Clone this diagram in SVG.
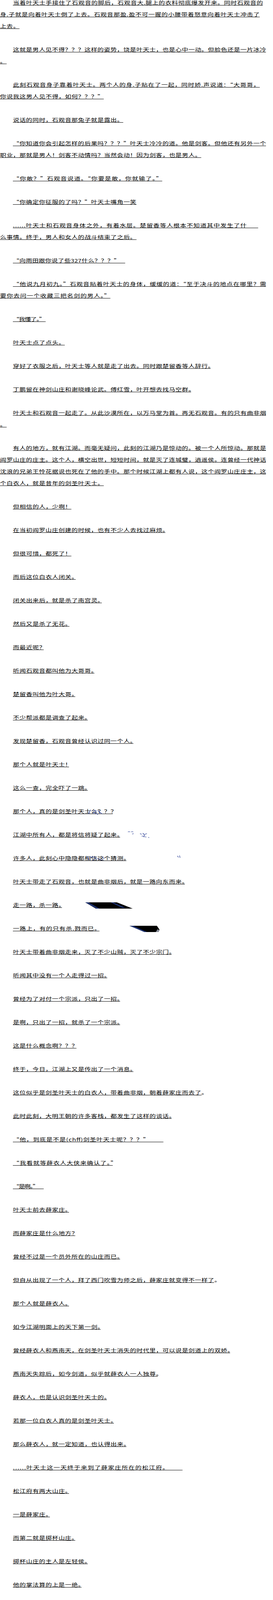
<svg xmlns="http://www.w3.org/2000/svg" width="700" height="5325" viewBox="0 0 700 5325">
<style>
text { font-family: "Noto Sans CJK SC", "Noto Sans CJK JP", sans-serif; font-size: 12px; fill: #000; }
.u { stroke: #000; stroke-width: 1; fill: none; shape-rendering: crispEdges; }
.b { stroke: #2b3f95; stroke-width: 1; fill: none; }
</style>
<rect width="700" height="5325" fill="#fff"/>
<g id="page" transform="scale(1.35 1)">
<g id="p1">
<text x="24.66" y="12" textLength="474.7" lengthAdjust="spacing">当着叶天士手接住了石观音的脚后，石观音大.腿上的衣料彻底爆发开来。同时石观音的</text>
<text x="0" y="42" textLength="493.2" lengthAdjust="spacing">身.子就是向着叶天士倒了上去。石观音那盈.盈不可一握的小腰带着怒意向着叶天士冲击了</text>
<text x="0" y="72" textLength="37" lengthAdjust="spacing">上去。</text>
<path class="u" d="M24.66 13.5H499.4M0 43.5H493.2M0 73.5H37"/>
</g>
<g id="p2">
<text x="24.66" y="132" textLength="480.87" lengthAdjust="spacing">这就是男人见不得？？？这样的姿势，饶是叶天士，也是心中一动。但脸色还是一片冰冷</text>
<text x="0" y="162">。</text>
<path class="u" d="M24.66 133.5H505.5M0 163.5H12.3"/>
</g>
<g id="p3">
<text x="24.66" y="222" textLength="468.54" lengthAdjust="spacing">此刻石观音身子靠着叶天士。两个人的身.子贴在了一起，同时娇.声说道：“大哥哥，</text>
<text x="0" y="252" textLength="197.28" lengthAdjust="spacing">你说我这男人见不得，如何？？？”</text>
<path class="u" d="M24.66 223.5H493.2M0 253.5H197.3"/>
</g>
<g id="p4">
<text x="24.66" y="312" textLength="209.61" lengthAdjust="spacing">说话的同时，石观音那兔子就是露出。</text>
<path class="u" d="M24.66 313.5H234.3"/>
</g>
<g id="p5">
<text x="24.66" y="372" textLength="480.87" lengthAdjust="spacing">“你知道你会引起怎样的后果吗？？？”叶天士冷冷的道。他是剑客。但他还有另外一个</text>
<text x="0" y="402" textLength="382.23" lengthAdjust="spacing">职业，那就是男人！剑客不动情吗？当然会动！因为剑客，也是男人。</text>
<path class="u" d="M24.66 373.5H505.5M0 403.5H382.2"/>
</g>
<g id="p6">
<text x="24.66" y="462" textLength="283.59" lengthAdjust="spacing">“你敢？”石观音说道。“你要是敢，你就输了。”</text>
<path class="u" d="M24.66 463.5H308.3"/>
</g>
<g id="p7">
<text x="24.66" y="522" textLength="234.27" lengthAdjust="spacing">“你确定你征服的了吗？”叶天士嘴角一笑</text>
<path class="u" d="M24.66 523.5H258.9"/>
</g>
<g id="p8">
<text x="24.66" y="582" textLength="443.88" lengthAdjust="spacing">......叶天士和石观音身体之外，有着水层。楚留香等人根本不知道其中发生了什</text>
<text x="0" y="612" textLength="258.93" lengthAdjust="spacing">么事情。终于，男人和女人的战斗结束了之后。</text>
<path class="u" d="M24.66 583.5H490M0 613.5H258.9"/>
</g>
<g id="p9">
<text x="24.66" y="672" textLength="203.45" lengthAdjust="spacing">“向雨田跟你说了些327什么？？？”</text>
<path class="u" d="M24.66 673.5H238"/>
</g>
<g id="p10">
<text x="24.66" y="732" textLength="480.87" lengthAdjust="spacing">“他说九月初九。”石观音贴着叶天士的身体，缓缓的道：“至于决斗的地点在哪里？需</text>
<text x="0" y="762" textLength="209.61" lengthAdjust="spacing">要你去问一个收藏三把名剑的男人。”</text>
<path class="u" d="M24.66 733.5H505.5M0 763.5H209.6"/>
</g>
<g id="p11">
<text x="24.66" y="822" textLength="61.65" lengthAdjust="spacing">“我懂了。”</text>
<path class="u" d="M24.66 823.5H86.3"/>
</g>
<g id="p12">
<text x="24.66" y="882" textLength="98.64" lengthAdjust="spacing">叶天士点了点头。</text>
<path class="u" d="M24.66 883.5H123.3"/>
</g>
<g id="p13">
<text x="24.66" y="942" textLength="382.23" lengthAdjust="spacing">穿好了衣服之后，叶天士等人就是走了出去。同时跟楚留香等人辞行。</text>
<path class="u" d="M24.66 943.5H400"/>
</g>
<g id="p14">
<text x="24.66" y="1002" textLength="345.24" lengthAdjust="spacing">丁鹏留在神剑山庄和谢晓峰论武。傅红雪，叶开想去找马空群。</text>
<path class="u" d="M24.66 1003.5H363"/>
</g>
<g id="p15">
<text x="24.66" y="1062" textLength="480.87" lengthAdjust="spacing">叶天士和石观音一起走了。从此沙漠所在，以万马堂为首。再无石观音。有的只有曲非烟</text>
<text x="0" y="1092">。</text>
<path class="u" d="M24.66 1063.5H505.5M0 1093.5H12.3"/>
</g>
<g id="p16">
<text x="24.66" y="1152" textLength="480.87" lengthAdjust="spacing">有人的地方，就有江湖。而毫无疑问，此刻的江湖乃是惊动的。被一个人所惊动。那就是</text>
<text x="0" y="1182" textLength="505.53" lengthAdjust="spacing">阎罗山庄的庄主。这个人，横空出世，短短时间，就是灭了连城璧，逍遥侯。连曾经一代神话</text>
<text x="0" y="1212" textLength="505.53" lengthAdjust="spacing">沈浪的兄弟王怜花据说也死在了他的手中。那个时候江湖上都有人说，这个阎罗山庄庄主，这</text>
<text x="0" y="1242" textLength="197.28" lengthAdjust="spacing">个白衣人，就是昔年的剑圣叶天士。</text>
<path class="u" d="M24.66 1153.5H505.5M0 1183.5H505.5M0 1213.5H505.5M0 1243.5H197.3"/>
</g>
<g id="p17">
<text x="24.66" y="1302" textLength="110.97" lengthAdjust="spacing">但相信的人，少啊！</text>
<path class="u" d="M24.66 1303.5H135.6"/>
</g>
<g id="p18">
<text x="24.66" y="1362" textLength="295.92" lengthAdjust="spacing">在当初阎罗山庄创建的时候，也有不少人去找过麻烦。</text>
<path class="u" d="M24.66 1363.5H314"/>
</g>
<g id="p19">
<text x="24.66" y="1422" textLength="110.97" lengthAdjust="spacing">但很可惜，都死了！</text>
<path class="u" d="M24.66 1423.5H135.6"/>
</g>
<g id="p20">
<text x="24.66" y="1482" textLength="123.3" lengthAdjust="spacing">而后这位白衣人闭关。</text>
<path class="u" d="M24.66 1483.5H144"/>
</g>
<g id="p21">
<text x="24.66" y="1542" textLength="172.62" lengthAdjust="spacing">闭关出来后，就是杀了南宫灵。</text>
<path class="u" d="M24.66 1543.5H193"/>
</g>
<g id="p22">
<text x="24.66" y="1602" textLength="110.97" lengthAdjust="spacing">然后又是杀了无花。</text>
<path class="u" d="M24.66 1603.5H132"/>
</g>
<g id="p23">
<text x="24.66" y="1662" textLength="61.65" lengthAdjust="spacing">而最近呢？</text>
<path class="u" d="M24.66 1663.5H83"/>
</g>
<g id="p24">
<text x="24.66" y="1722" textLength="160.29" lengthAdjust="spacing">听闻石观音都叫他为大哥哥。</text>
<path class="u" d="M24.66 1723.5H179"/>
</g>
<g id="p25">
<text x="24.66" y="1782" textLength="123.3" lengthAdjust="spacing">楚留香叫他为叶大哥。</text>
<path class="u" d="M24.66 1783.5H143"/>
</g>
<g id="p26">
<text x="24.66" y="1842" textLength="147.96" lengthAdjust="spacing">不少帮派都是调查了起来。</text>
<path class="u" d="M24.66 1843.5H167"/>
</g>
<g id="p27">
<text x="24.66" y="1902" textLength="234.27" lengthAdjust="spacing">发现楚留香，石观音曾经认识过同一个人。</text>
<path class="u" d="M24.66 1903.5H253"/>
</g>
<g id="p28">
<text x="24.66" y="1962" textLength="110.97" lengthAdjust="spacing">那个人就是叶天士！</text>
<path class="u" d="M24.66 1963.5H131"/>
</g>
<g id="p29">
<text x="24.66" y="2022" textLength="147.96" lengthAdjust="spacing">这么一查，完全吓了一跳。</text>
<path class="u" d="M24.66 2023.5H167"/>
</g>
<g id="p30">
<text x="24.66" y="2082" textLength="197.28" lengthAdjust="spacing">那个人，真的是剑圣叶天士么？？？</text>
<path class="u" d="M24.66 2083.5H214"/>
<path class="b" d="M168 2084L172 2073M175 2076q4 -3 8 0q-3 4 -7 6M178 2080l8 5M186 2074l4 8M189 2079q3 2 5 5"/>
</g>
<g id="p31">
<text x="24.66" y="2142" textLength="209.61" lengthAdjust="spacing">江湖中所有人，都是将信将疑了起来。</text>
<path class="u" d="M24.66 2143.5H228"/>
<path class="b" d="M243 2130q2 -2 4 0M249 2130q2 -2 4 0M253 2133l-1 3M266 2134l3 2M271 2133q5 3 2 10M269 2140l9 3M275 2136l4 -2M282 2143l1 2"/>
</g>
<g id="p32">
<text x="24.66" y="2202" textLength="221.94" lengthAdjust="spacing">许多人，此刻心中隐隐都相信这个猜测。</text>
<path class="u" d="M24.66 2203.5H240"/>
<path class="b" d="M166 2192l3 10M172 2195q6 -4 10 2l-6 6M184 2198l10 4M194 2193l4 6M337 2191l2 4M341 2190l1 6"/>
</g>
<g id="p33">
<text x="24.66" y="2262" textLength="332.91" lengthAdjust="spacing">叶天士带走了石观音，也就是曲非烟后，就是一路向东而来。</text>
<path class="u" d="M24.66 2263.5H351"/>
</g>
<g id="p34">
<text x="24.66" y="2322" textLength="98.64" lengthAdjust="spacing">走一路，杀一路。</text>
<path class="u" d="M24.66 2323.5H118"/>
<polygon points="162,2310 222,2310 252,2326 182,2326" fill="#000"/>
<polygon points="162,2310 168,2310 189,2326 183,2326" fill="#1e3270"/>
<polygon points="210,2310 215,2310 238,2324 232,2324" fill="#1e3270"/>
</g>
<g id="p35">
<text x="24.66" y="2382" textLength="166.46" lengthAdjust="spacing">一路上，有的只有杀.戮而已。</text>
<path class="u" d="M24.66 2383.5H189"/>
<polygon points="246,2370 298,2370 303,2380 301,2386 277,2386" fill="#000"/>
<polygon points="246,2370 253,2370 279,2386 274,2386" fill="#1e3270"/>
<polygon points="299,2379 303,2381 301,2386 296,2386" fill="#8a8f9a"/>
</g>
<g id="p36">
<text x="24.66" y="2442" textLength="308.25" lengthAdjust="spacing">叶天士带着曲非烟走来，灭了不少山贼，灭了不少宗门。</text>
<path class="u" d="M24.66 2443.5H326"/>
</g>
<g id="p37">
<text x="24.66" y="2502" textLength="184.95" lengthAdjust="spacing">听闻其中没有一个人走得过一招。</text>
<path class="u" d="M24.66 2503.5H204"/>
</g>
<g id="p38">
<text x="24.66" y="2562" textLength="209.61" lengthAdjust="spacing">曾经为了对付一个宗派，只出了一招。</text>
<path class="u" d="M24.66 2563.5H228"/>
</g>
<g id="p39">
<text x="24.66" y="2622" textLength="209.61" lengthAdjust="spacing">是啊，只出了一招，就杀了一个宗派。</text>
<path class="u" d="M24.66 2623.5H228"/>
</g>
<g id="p40">
<text x="24.66" y="2682" textLength="123.3" lengthAdjust="spacing">这是什么概念啊？？？</text>
<path class="u" d="M24.66 2683.5H145"/>
</g>
<g id="p41">
<text x="24.66" y="2742" textLength="234.27" lengthAdjust="spacing">终于，今日，江湖上又是传出了一个消息。</text>
<path class="u" d="M24.66 2743.5H253"/>
</g>
<g id="p42">
<text x="24.66" y="2802" textLength="369.9" lengthAdjust="spacing">这位似乎是剑圣叶天士的白衣人，带着曲非烟，朝着薛家庄而去了。</text>
<path class="u" d="M24.66 2803.5H383"/>
</g>
<g id="p43">
<text x="24.66" y="2862" textLength="308.25" lengthAdjust="spacing">此时此刻，大明王朝的许多客栈，都发生了这样的谈话。</text>
<path class="u" d="M24.66 2863.5H326"/>
</g>
<g id="p44">
<text x="24.66" y="2922" textLength="258.93" lengthAdjust="spacing">“他，到底是不是(chff)剑圣叶天士呢？？？”</text>
<path class="u" d="M24.66 2923.5H310"/>
</g>
<g id="p45">
<text x="24.66" y="2982" textLength="197.28" lengthAdjust="spacing">“我看就等薛衣人大侠来确认了。”</text>
<path class="u" d="M24.66 2983.5H214"/>
</g>
<g id="p46">
<text x="24.66" y="3042" textLength="49.32" lengthAdjust="spacing">“是啊。”</text>
<path class="u" d="M24.66 3043.5H83"/>
</g>
<g id="p47">
<text x="24.66" y="3102" textLength="110.97" lengthAdjust="spacing">叶天士前去薛家庄。</text>
<path class="u" d="M24.66 3103.5H131"/>
</g>
<g id="p48">
<text x="24.66" y="3162" textLength="123.3" lengthAdjust="spacing">而薛家庄是什么地方？</text>
<path class="u" d="M24.66 3163.5H143"/>
</g>
<g id="p49">
<text x="24.66" y="3222" textLength="209.61" lengthAdjust="spacing">曾经不过是一个员外所在的山庄而已。</text>
<path class="u" d="M24.66 3223.5H228"/>
</g>
<g id="p50">
<text x="24.66" y="3282" textLength="394.56" lengthAdjust="spacing">但自从出现了一个人，拜了西门吹雪为师之后，薛家庄就变得不一样了。</text>
<path class="u" d="M24.66 3283.5H407"/>
</g>
<g id="p51">
<text x="24.66" y="3342" textLength="110.97" lengthAdjust="spacing">那个人就是薛衣人。</text>
<path class="u" d="M24.66 3343.5H131"/>
</g>
<g id="p52">
<text x="24.66" y="3402" textLength="172.62" lengthAdjust="spacing">如今江湖明面上的天下第一剑。</text>
<path class="u" d="M24.66 3403.5H191"/>
</g>
<g id="p53">
<text x="24.66" y="3462" textLength="419.22" lengthAdjust="spacing">曾经薛衣人和燕南天，在剑圣叶天士消失的时代里，可以说是剑道上的双娇。</text>
<path class="u" d="M24.66 3463.5H437"/>
</g>
<g id="p54">
<text x="24.66" y="3522" textLength="283.59" lengthAdjust="spacing">燕南天失踪后，如今剑道，似乎就薛衣人一人独尊。</text>
<path class="u" d="M24.66 3523.5H299"/>
</g>
<g id="p55">
<text x="24.66" y="3582" textLength="184.95" lengthAdjust="spacing">薛衣人，也是认识剑圣叶天士的。</text>
<path class="u" d="M24.66 3583.5H203"/>
</g>
<g id="p56">
<text x="24.66" y="3642" textLength="197.28" lengthAdjust="spacing">若那一位白衣人真的是剑圣叶天士。</text>
<path class="u" d="M24.66 3643.5H216"/>
</g>
<g id="p57">
<text x="24.66" y="3702" textLength="221.94" lengthAdjust="spacing">那么薛衣人，就一定知道，也认得出来。</text>
<path class="u" d="M24.66 3703.5H240"/>
</g>
<g id="p58">
<text x="24.66" y="3762" textLength="295.92" lengthAdjust="spacing">......叶天士这一天终于来到了薛家庄所在的松江府。</text>
<path class="u" d="M24.66 3763.5H347"/>
</g>
<g id="p59">
<text x="24.66" y="3822" textLength="110.97" lengthAdjust="spacing">松江府有两大山庄。</text>
<path class="u" d="M24.66 3823.5H131"/>
</g>
<g id="p60">
<text x="24.66" y="3882" textLength="73.98" lengthAdjust="spacing">一是薛家庄。</text>
<path class="u" d="M24.66 3883.5H95"/>
</g>
<g id="p61">
<text x="24.66" y="3942" textLength="123.3" lengthAdjust="spacing">而第二就是掷杯山庄。</text>
<path class="u" d="M24.66 3943.5H143"/>
</g>
<g id="p62">
<text x="24.66" y="4002" textLength="147.96" lengthAdjust="spacing">掷杯山庄的主人是左轻侯。</text>
<path class="u" d="M24.66 4003.5H167"/>
</g>
<g id="p63">
<text x="24.66" y="4062" textLength="135.63" lengthAdjust="spacing">他的掌法算的上是一绝。</text>
<path class="u" d="M24.66 4063.5H155"/>
</g>
<g id="p64">
<text x="24.66" y="4122" textLength="184.95" lengthAdjust="spacing">当然，也只有段正淳的水平而已。</text>
<path class="u" d="M24.66 4123.5H203"/>
</g>
<g id="p65">
<text x="24.66" y="4182" textLength="320.58" lengthAdjust="spacing">他在江湖上闻名，靠的不是掌法，大多靠的乃是一手厨艺。</text>
<path class="u" d="M24.66 4183.5H334"/>
</g>
<g id="p66">
<text x="24.66" y="4242" textLength="283.59" lengthAdjust="spacing">特别是他亲手烹调出来的鲴鱼，乃是人间一大美味。</text>
<path class="u" d="M24.66 4243.5H298"/>
</g>
<g id="p67">
<text x="24.66" y="4302" textLength="283.59" lengthAdjust="spacing">左轻侯，小时候就崇拜铁中棠，也因而认识铁中棠。</text>
<path class="u" d="M24.66 4303.5H298"/>
</g>
<g id="p68">
<text x="24.66" y="4362" textLength="172.62" lengthAdjust="spacing">铁中棠带着楚留香常常去做客。</text>
<path class="u" d="M24.66 4363.5H191"/>
</g>
<g id="p69">
<text x="24.66" y="4422" textLength="172.62" lengthAdjust="spacing">因而左轻侯和楚留香交情不浅。</text>
<path class="u" d="M24.66 4423.5H191"/>
</g>
<g id="p70">
<text x="24.66" y="4482" textLength="258.93" lengthAdjust="spacing">江湖上的人都知道掷杯山庄，薛家庄水火不容。</text>
<path class="u" d="M24.66 4483.5H276"/>
</g>
<g id="p71">
<text x="24.66" y="4542" textLength="234.27" lengthAdjust="spacing">左轻侯，薛衣人斗了三十几年，不分胜负。</text>
<path class="u" d="M24.66 4543.5H252"/>
</g>
<g id="p72">
<text x="24.66" y="4602" textLength="135.63" lengthAdjust="spacing">但真实情况却不是如此。</text>
<path class="u" d="M24.66 4603.5H155"/>
</g>
<g id="p73">
<text x="24.66" y="4662" textLength="456.21" lengthAdjust="spacing">左轻侯的武功，乃是铁血大旗门的外门武功，根本没有薛衣人的葬血剑术那么可怕。</text>
<path class="u" d="M24.66 4663.5H468"/>
</g>
<g id="p74">
<text x="24.66" y="4722" textLength="271.26" lengthAdjust="spacing">左轻侯之所以还活着，那是因为薛衣人不想杀他。</text>
<path class="u" d="M24.66 4723.5H288"/>
</g>
<g id="p75">
<text x="24.66" y="4782" textLength="209.61" lengthAdjust="spacing">薛衣人的性格，跟师父西门吹雪很像！</text>
<path class="u" d="M24.66 4783.5H227"/>
</g>
<g id="p76">
<text x="24.66" y="4842" textLength="73.98" lengthAdjust="spacing">他不杀弱者。</text>
<path class="u" d="M24.66 4843.5H95"/>
</g>
<g id="p77">
<text x="24.66" y="4902" textLength="382.23" lengthAdjust="spacing">......叶天士，曲非烟来到了此地后，就是到了酒楼中品尝此地美食。</text>
<path class="u" d="M24.66 4903.5H428"/>
</g>
<g id="p78">
<text x="24.66" y="4962" textLength="110.97" lengthAdjust="spacing">这是曲非烟要求的。</text>
<path class="u" d="M24.66 4963.5H131"/>
</g>
<g id="p79">
<text x="24.66" y="5022" textLength="258.93" lengthAdjust="spacing">她已不是冰冷的石观音，此刻是可爱的花姑娘。</text>
<path class="u" d="M24.66 5023.5H277"/>
</g>
<g id="p80">
<text x="24.66" y="5082" textLength="431.55" lengthAdjust="spacing">在品尝美酒的时候，叶天士也想过了青long会。青long会许久不出，但叶天士却</text>
<text x="0" y="5112" textLength="73.98" lengthAdjust="spacing">知道要提防！</text>
<path class="u" d="M24.66 5083.5H490M0 5113.5H71"/>
</g>
<g id="p81">
<text x="24.66" y="5172" textLength="221.94" lengthAdjust="spacing">特别是小心阎罗山庄里黄蓉等人的安全。</text>
<path class="u" d="M24.66 5173.5H240"/>
</g>
<g id="p82">
<text x="24.66" y="5232" textLength="234.27" lengthAdjust="spacing">叶天士想到这里，也知道他该有一些奴才。</text>
<path class="u" d="M24.66 5233.5H252"/>
</g>
<g id="p83">
<text x="24.66" y="5292" textLength="197.28" lengthAdjust="spacing">而此刻他所想到的奴才就是薛笑人。</text>
<path class="u" d="M24.66 5293.5H228"/>
</g>
</g>
</svg>
